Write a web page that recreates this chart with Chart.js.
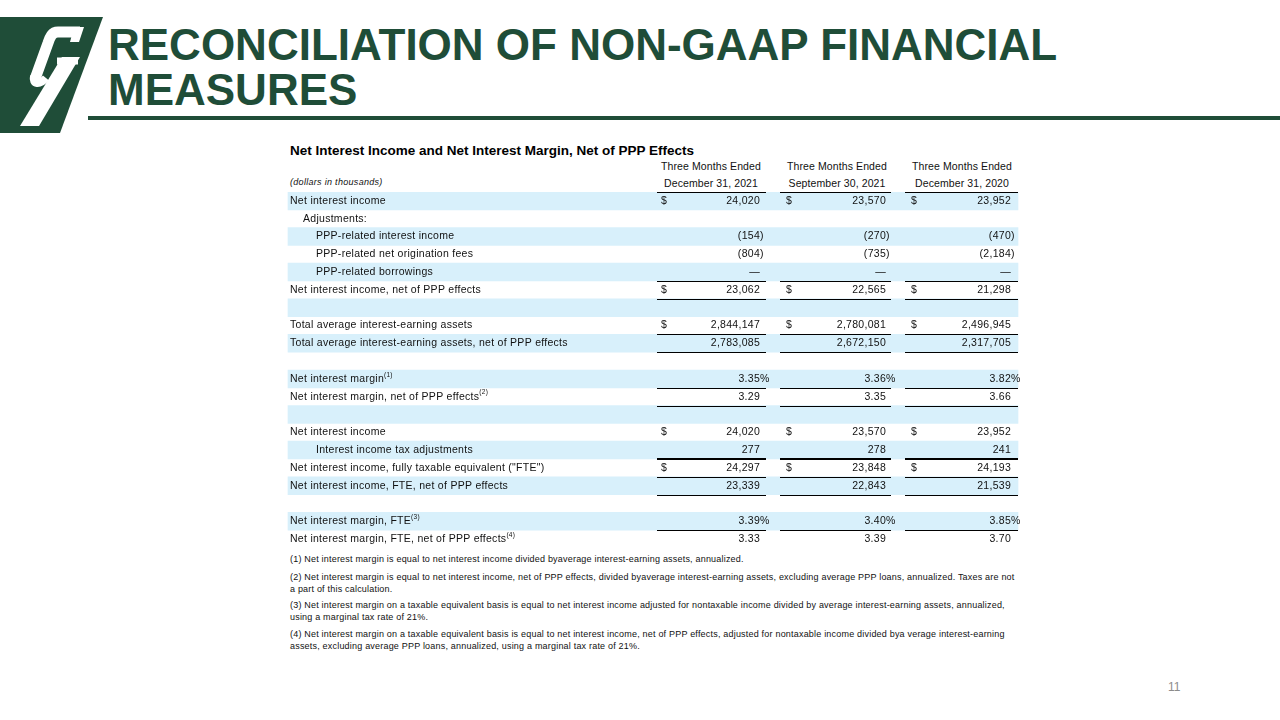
<!DOCTYPE html>
<html>
<head>
<meta charset="utf-8">
<script src="https://cdn.jsdelivr.net/npm/chart.js@4.4.1/dist/chart.umd.min.js"></script>
<style>
body { margin:0; width:1280px; height:720px; overflow:hidden; background:#fff; position:relative; font-family:"Liberation Sans", Arial, sans-serif; color:#111; }
.abs { position:absolute; white-space:nowrap; }
#title { left:108px; top:22px; font-size:44px; font-weight:bold; color:#1f4d38; line-height:45px; }
#rule { left:88px; top:116px; width:1192px; height:4px; background:#1f4d38; }
#tblTitle { left:290px; top:143px; font-size:13.5px; font-weight:bold; line-height:16px; color:#000; }
.hdr { font-size:10.5px; line-height:12px; letter-spacing:0.1px; transform:translateX(-50%); }
#units { left:290px; top:177px; font-size:9px; font-style:italic; line-height:11px; letter-spacing:0.3px; }
.note { left:290px; font-size:9px; line-height:10px; letter-spacing:0.2px; }
#page { left:1168px; top:680px; font-size:12px; color:#8c8c8c; }
#tableBox { position:absolute; left:280px; top:192px; width:750px; height:356px; }
</style>
</head>
<body>
<svg class="abs" style="left:0;top:0" width="110" height="140" viewBox="0 0 110 140">
  <polygon points="0,17 103,17 60,133 0,133" fill="#1f4d38"/>
  <g fill="none" stroke="#fff">
    <path d="M80 32 L58 32 C52 32 50 37 48 43 L35 79" stroke-width="11"/>
    <path d="M34 76 C32 85 40 85 46 78" stroke-width="8"/>
    <path d="M57 61 L78 61" stroke-width="7"/>
  </g>
  <polygon points="62,57 80,57 39,126 20,126" fill="#fff"/>
  <polygon points="74,27 84,27 79,42 70,42" fill="#fff"/>
</svg>
<div id="title" class="abs">RECONCILIATION OF NON-GAAP FINANCIAL<br>MEASURES</div>
<div id="rule" class="abs"></div>

<div id="tblTitle" class="abs">Net Interest Income and Net Interest Margin, Net of PPP Effects</div>
<div class="abs hdr" style="left:711px;top:160px">Three Months Ended</div>
<div class="abs hdr" style="left:837px;top:160px">Three Months Ended</div>
<div class="abs hdr" style="left:962px;top:160px">Three Months Ended</div>
<div id="units" class="abs">(dollars in thousands)</div>
<div class="abs hdr" style="left:711px;top:177px" id="h0"></div>
<div class="abs hdr" style="left:837px;top:177px" id="h1"></div>
<div class="abs hdr" style="left:962px;top:177px" id="h2"></div>

<div id="tableBox"><canvas id="table" width="750" height="356"></canvas></div>

<div class="abs note" style="top:554px">(1) Net interest margin is equal to net interest income divided byaverage interest-earning assets, annualized.</div>
<div class="abs note" style="top:572px">(2) Net interest margin is equal to net interest income, net of PPP effects, divided byaverage interest-earning assets, excluding average PPP loans, annualized. Taxes are not</div>
<div class="abs note" style="top:584px">a part of this calculation.</div>
<div class="abs note" style="top:600px">(3) Net interest margin on a taxable equivalent basis is equal to net interest income adjusted for nontaxable income divided by average interest-earning assets, annualized,</div>
<div class="abs note" style="top:612px">using a marginal tax rate of 21%.</div>
<div class="abs note" style="top:629px">(4) Net interest margin on a taxable equivalent basis is equal to net interest income, net of PPP effects, adjusted for nontaxable income divided bya verage interest-earning</div>
<div class="abs note" style="top:641px">assets, excluding average PPP loans, annualized, using a marginal tax rate of 21%.</div>
<div id="page" class="abs">11</div>

<script>
// data
const periods = ['December 31, 2021', 'September 30, 2021', 'December 31, 2020'];
const rowLabels = [
  'Net interest income', 'Adjustments:', 'PPP-related interest income', 'PPP-related net origination fees',
  'PPP-related borrowings', 'Net interest income, net of PPP effects', '',
  'Total average interest-earning assets', 'Total average interest-earning assets, net of PPP effects', '',
  'Net interest margin', 'Net interest margin, net of PPP effects', '',
  'Net interest income', 'Interest income tax adjustments', 'Net interest income, fully taxable equivalent ("FTE")',
  'Net interest income, FTE, net of PPP effects', '',
  'Net interest margin, FTE', 'Net interest margin, FTE, net of PPP effects'
];
const rowNotes = ['', '', '', '', '', '', '', '', '', '', '(1)', '(2)', '', '', '', '', '', '', '(3)', '(4)'];
const rowFormat = ['usd', null, 'num', 'num', 'num', 'usd', null, 'usd', 'num', null,
  'pct', 'rate', null, 'usd', 'num', 'usd', 'num', null, 'pct', 'rate'];
const dec2021 = [24020, null, -154, -804, 0, 23062, null, 2844147, 2783085, null,
  3.35, 3.29, null, 24020, 277, 24297, 23339, null, 3.39, 3.33];
const sep2021 = [23570, null, -270, -735, 0, 22565, null, 2780081, 2672150, null,
  3.36, 3.35, null, 23570, 278, 23848, 22843, null, 3.40, 3.39];
const dec2020 = [23952, null, -470, -2184, 0, 21298, null, 2496945, 2317705, null,
  3.82, 3.66, null, 23952, 241, 24193, 21539, null, 3.85, 3.70];
const series = [dec2021, sep2021, dec2020];

// row styling
const indent = [0, 1, 2, 2, 2, 0, 0, 0, 0, 0, 0, 0, 0, 0, 2, 0, 0, 0, 0, 0];
const underline = [0, 0, 0, 0, 1, 1, 0, 1, 1, 0, 1, 1, 0, 0, 2, 1, 1, 0, 1, 1];

// layout (page x)
const TABLE_LEFT = 288, TABLE_RIGHT = 1018;
const LABEL_X = 290, INDENT = 13;
const DOLLAR_X = [661, 786, 911];
const NUM_RIGHT = [760, 886, 1011];
const COL_SPAN = [[657, 766], [780, 891], [905, 1018]];
const FONT = '10.5px "Liberation Sans", Arial, sans-serif';

periods.forEach((p, i) => document.getElementById('h' + i).textContent = p);

function fmt(v, kind) {
  if (kind === 'pct') return [v.toFixed(2), '%'];
  if (kind === 'rate') return [v.toFixed(2), ''];
  if (v === 0) return ['\u2014', ''];
  const s = Math.abs(v).toLocaleString('en-US');
  return v < 0 ? ['(' + s, ')'] : [s, ''];
}

const tableText = {
  id: 'tableText',
  afterDatasetsDraw(chart) {
    const { ctx, scales: { x, y } } = chart;
    const band = y.getPixelForValue(1) - y.getPixelForValue(0);
    const hline = (py, w) => {
      ctx.lineWidth = w;
      ctx.strokeStyle = '#000';
      COL_SPAN.forEach(([a, b]) => {
        ctx.beginPath();
        ctx.moveTo(x.getPixelForValue(a), py);
        ctx.lineTo(x.getPixelForValue(b), py);
        ctx.stroke();
      });
    };
    ctx.save();
    ctx.textBaseline = 'middle';
    ctx.fillStyle = '#111';
    ctx.letterSpacing = '0.28px';
    hline(Math.round(y.getPixelForValue(0) - band / 2) + 0.5, 1);
    rowLabels.forEach((label, i) => {
      const py = y.getPixelForValue(i);
      ctx.font = FONT;
      ctx.textAlign = 'left';
      const lx = x.getPixelForValue(LABEL_X + indent[i] * INDENT);
      ctx.fillText(label, lx, py);
      if (rowNotes[i]) {
        const w = ctx.measureText(label).width;
        ctx.font = '6.5px "Liberation Sans", Arial, sans-serif';
        ctx.fillText(rowNotes[i], lx + w, py - 4);
        ctx.font = FONT;
      }
      const kind = rowFormat[i];
      if (kind) {
        series.forEach((vals, c) => {
          const v = vals[i];
          if (v === null) return;
          if (kind === 'usd') {
            ctx.textAlign = 'left';
            ctx.fillText('$', x.getPixelForValue(DOLLAR_X[c]), py);
          }
          const [body, tail] = fmt(v, kind);
          const rx = x.getPixelForValue(NUM_RIGHT[c]);
          ctx.textAlign = 'right';
          ctx.fillText(body, rx, py);
          if (tail) {
            ctx.textAlign = 'left';
            ctx.fillText(tail, rx, py);
          }
        });
      }
      if (underline[i]) {
        const w = underline[i];
        const ly = Math.round(py + band / 2) + (w === 1 ? 0.5 : 0);
        hline(ly, w);
      }
    });
    ctx.restore();
  }
};

new Chart(document.getElementById('table'), {
  type: 'bar',
  data: {
    labels: rowLabels.map((l, i) => i),
    datasets: [{
      data: rowLabels.map((l, i) => i % 2 === 0 ? [TABLE_LEFT, TABLE_RIGHT] : null),
      backgroundColor: '#d8f0fb',
      borderWidth: 0,
      barPercentage: 1,
      categoryPercentage: 1
    }]
  },
  options: {
    indexAxis: 'y',
    responsive: false,
    animation: false,
    layout: { padding: 0 },
    plugins: { legend: { display: false }, tooltip: { enabled: false } },
    scales: {
      x: { type: 'linear', min: 280, max: 1030, display: false },
      y: { display: false, offset: true }
    }
  },
  plugins: [tableText]
});
</script>
</body>
</html>
